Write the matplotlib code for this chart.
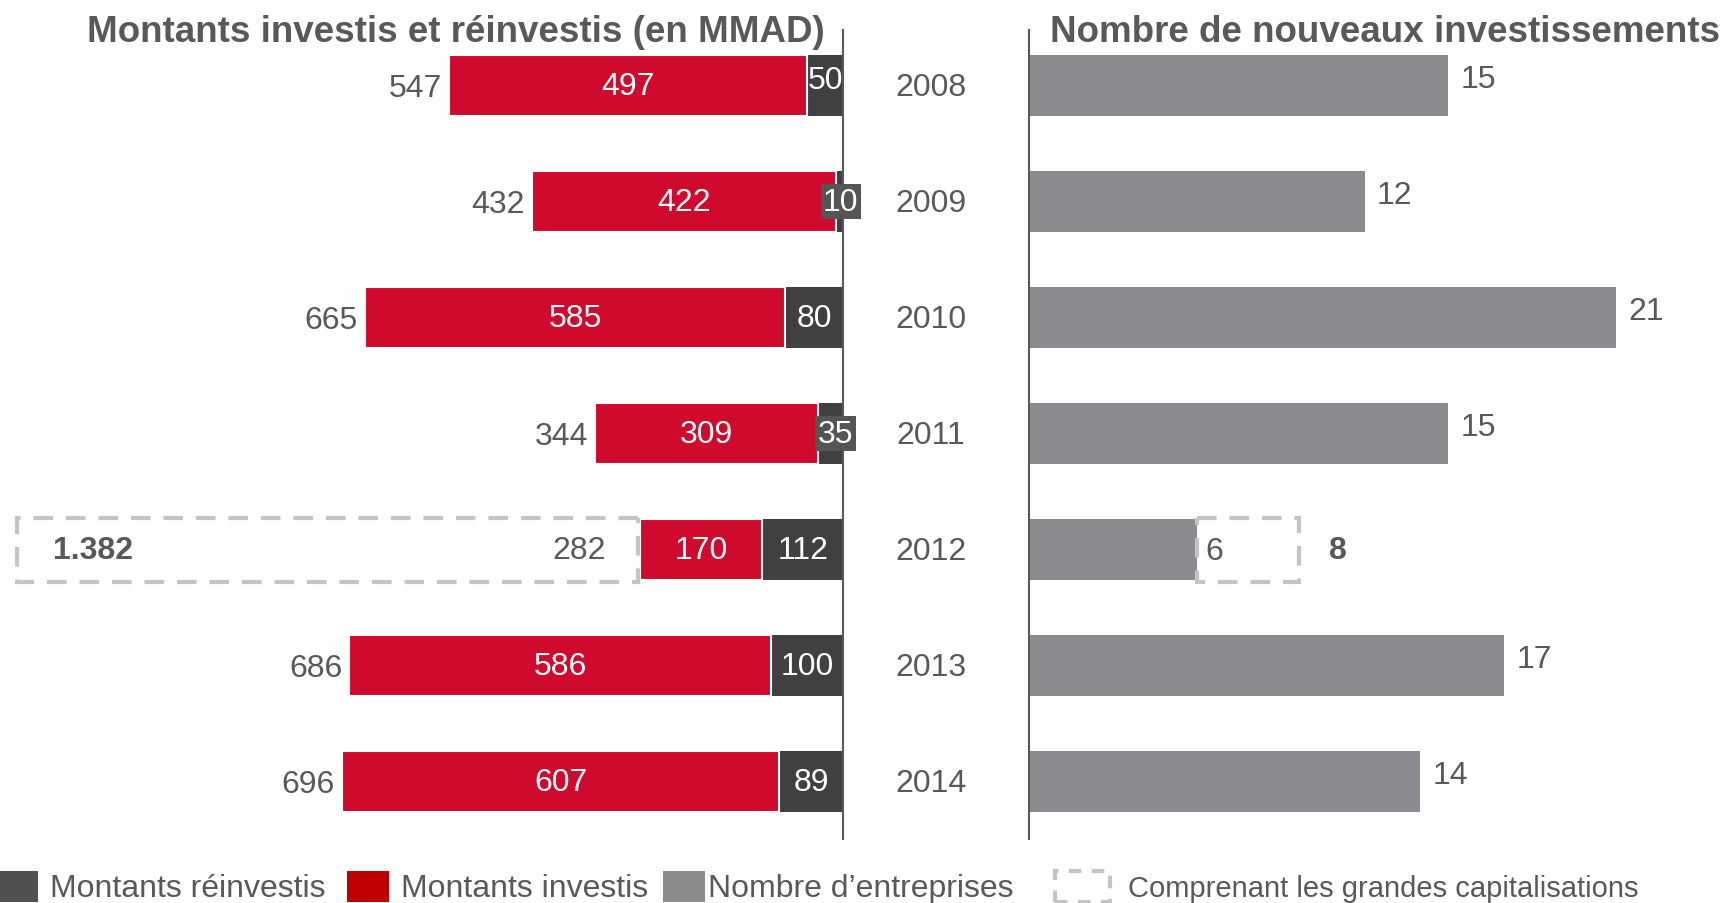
import numpy as np
import matplotlib.pyplot as plt
from matplotlib.patches import Rectangle

plt.rcParams['font.family'] = ['Liberation Sans', 'DejaVu Sans']

# Data
years = ['2008', '2009', '2010', '2011', '2012', '2013', '2014']
invested = [497, 422, 585, 309, 170, 586, 607]
reinvested = [50, 10, 80, 35, 112, 100, 89]
totals = [547, 432, 665, 344, 282, 686, 696]
companies = [15, 12, 21, 15, 6, 17, 14]
big_caps_total = '1.382'
big_caps_count = '8'
highlight = years.index('2012')

RED = '#D00A2D'
DARK = '#404040'
GREY = '#8A8B8E'
TXT = '#595959'
DASH = '#C4C4C4'
FS = 23

W, H = 1733, 904
fig = plt.figure(figsize=(W / 100, H / 100), dpi=100)


def fx(px):
    return px / W


def fy(py):
    # py measured from the top
    return 1 - py / H


ax_l = fig.add_axes([0, fy(840), fx(843), (840 - 31) / H])
ax_r = fig.add_axes([fx(1029), fy(840), 1 - fx(1029), (840 - 31) / H])

y = np.arange(len(years))
bh = 0.53
ylim = (6.495, -0.48)

# left panel: amounts
ax_l.barh(y, reinvested, height=bh, color=DARK, linewidth=0)
ax_l.barh(y, invested, left=reinvested, height=bh, color=RED,
          edgecolor='white', linewidth=1.5)
ax_l.set_xlim(843 / 0.7195, 0)
ax_l.set_ylim(*ylim)

for i in y:
    r, v, t = reinvested[i], invested[i], totals[i]
    ax_l.text(r + v / 2, i, str(v), ha='center', va='center',
              color='white', fontsize=FS)
    if r < 40:
        ax_l.text(r * 0.3, i, str(r), ha='center', va='center',
                  color='white', fontsize=FS,
                  bbox=dict(boxstyle='square,pad=0.08', fc='#555555', ec='none'))
    else:
        ax_l.text(r / 2, i - (0.05 if i == 0 else 0), str(r),
                  ha='center', va='center', color='white', fontsize=FS)
    if i == highlight:
        ax_l.add_patch(Rectangle((t + 3, i - 0.275), 1148 - t - 3, 0.55,
                                 fill=False, ec=DASH, lw=3,
                                 ls=(0, (4.7, 3.1)), clip_on=False))
        ax_l.text(t + 47, i, str(t), ha='right', va='center',
                  color=TXT, fontsize=FS)
        ax_l.text(1042, i, big_caps_total, ha='center', va='center',
                  color=TXT, fontsize=FS, fontweight='bold')
    else:
        ax_l.text(t + 10, i + 0.02, str(t), ha='right', va='center',
                  color=TXT, fontsize=FS)

# right panel: number of new investments
ax_r.barh(y, companies, height=bh, color=GREY, linewidth=0)
ax_r.set_xlim(0, 704 / 27.96)
ax_r.set_ylim(*ylim)

for i in y:
    c = companies[i]
    ax_r.text(-3.5, i + 0.01, years[i], ha='center', va='center',
              color=TXT, fontsize=FS)
    if i == highlight:
        ax_r.text(c + 0.3, i + 0.01, str(c), ha='left', va='center',
                  color=TXT, fontsize=FS)
        ax_r.add_patch(Rectangle((c, i - 0.275), 3.67, 0.55,
                                 fill=False, ec=DASH, lw=3,
                                 ls=(0, (4.7, 3.1)), clip_on=False))
        ax_r.text(11.06, i, big_caps_count, ha='center', va='center',
                  color=TXT, fontsize=FS, fontweight='bold')
    else:
        ax_r.text(c + 0.45, i - 0.06, str(c), ha='left', va='center',
                  color=TXT, fontsize=FS)

for ax, side in [(ax_l, 'right'), (ax_r, 'left')]:
    for s in ax.spines.values():
        s.set_visible(False)
    ax.spines[side].set_visible(True)
    ax.spines[side].set_color(TXT)
    ax.spines[side].set_linewidth(1.5)
    ax.set_xticks([])
    ax.set_yticks([])
    ax.patch.set_alpha(0)

# titles
fig.text(fx(825), fy(33), 'Montants investis et réinvestis (en MMAD)',
         ha='right', va='center', color=TXT, fontsize=26.5, fontweight='bold')
fig.text(fx(1050), fy(33), 'Nombre de nouveaux investissements',
         ha='left', va='center', color=TXT, fontsize=26.5, fontweight='bold')

# legend
leg_items = [
    (0, 38, dict(fc='#505050', ec='none'), 50, 'Montants réinvestis', 23),
    (347, 389, dict(fc='#C00000', ec='none'), 401, 'Montants investis', 23),
    (663, 705, dict(fc='#8C8C8C', ec='none'), 708,
     'Nombre d\u2019entreprises', 23),
    (1055, 1110, dict(fill=False, ec=DASH, lw=3, ls=(0, (3, 2.5))), 1128,
     'Comprenant les grandes capitalisations', 21),
]
for x0, x1, style, tx, label, size in leg_items:
    fig.add_artist(Rectangle((fx(x0), fy(903)), fx(x1 - x0), 31 / H,
                             transform=fig.transFigure, **style))
    fig.text(fx(tx), fy(889), label, ha='left', va='center',
             color=TXT, fontsize=size)

fig.savefig('out.png', dpi=100)
